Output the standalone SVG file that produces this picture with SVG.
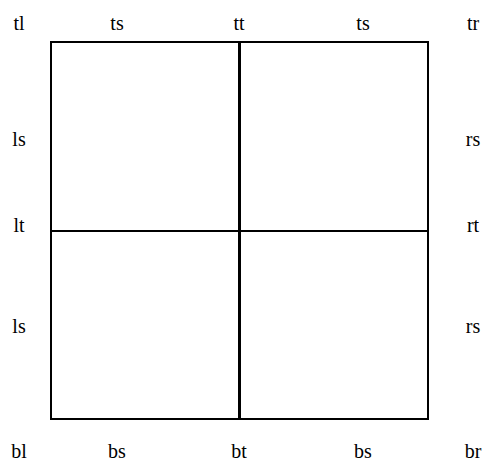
<svg xmlns="http://www.w3.org/2000/svg" width="492" height="464" viewBox="0 0 492 464">
<style>
.lbl{font-family:"Liberation Serif","Times New Roman",serif;font-size:20px;fill:#000;text-anchor:middle}
.ln{stroke:#000;fill:none}
</style>
<rect width="492" height="464" fill="#fff"/>
<g id="grid">
<rect class="ln" x="51" y="42" width="377" height="377" stroke-width="2"/>
<line class="ln" x1="239.5" y1="42" x2="239.5" y2="419" stroke-width="3"/>
<line class="ln" x1="51" y1="231" x2="428" y2="231" stroke-width="2"/>
</g>
<g id="labels">
<text class="lbl" x="19" y="30">tl</text>
<text class="lbl" x="117" y="30">ts</text>
<text class="lbl" x="239" y="30">tt</text>
<text class="lbl" x="363" y="30">ts</text>
<text class="lbl" x="473" y="30">tr</text>
<text class="lbl" x="19" y="146">ls</text>
<text class="lbl" x="473" y="146">rs</text>
<text class="lbl" x="19" y="232">lt</text>
<text class="lbl" x="473" y="232">rt</text>
<text class="lbl" x="19" y="333">ls</text>
<text class="lbl" x="473" y="333">rs</text>
<text class="lbl" x="19" y="458">bl</text>
<text class="lbl" x="117" y="458">bs</text>
<text class="lbl" x="239" y="458">bt</text>
<text class="lbl" x="363" y="458">bs</text>
<text class="lbl" x="473" y="458">br</text>
</g>
</svg>
